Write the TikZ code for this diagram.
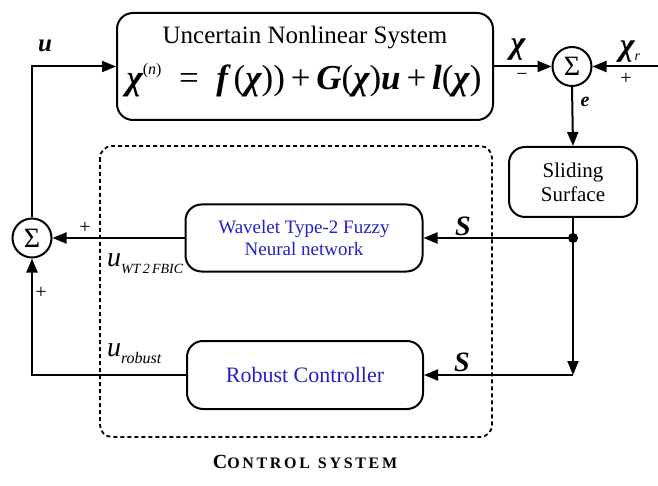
\documentclass[tikz,border=0pt]{standalone}
\usepackage{fontspec}
\setmainfont{Liberation Serif}
\usetikzlibrary{arrows.meta}
\definecolor{ctrlblue}{RGB}{35,30,205}
\newcommand{\bivar}[1]{{\bfseries\itshape #1}}
\newcommand{\fsz}[1]{\fontsize{#1}{1.15\dimexpr#1pt\relax}\selectfont}

\begin{document}
\begin{tikzpicture}[x=1pt,y=-1pt,line width=2pt,
	>={Triangle[length=14pt,width=11pt]},
	block/.style={draw,rounded corners=16pt,inner sep=0pt},
	sumnode/.style={draw,circle,minimum size=39pt,inner sep=0pt,font=\fsz{28}},
	lbl/.style={inner sep=0pt}]
	\useasboundingbox (0,0) rectangle (658,486);
	% controller frame
	\draw [line width=1.8pt,dash pattern=on 4pt off 3pt,rounded corners=12pt] (100,146) rectangle (492,437);
	% blocks
	\node [block,minimum width=376pt,minimum height=107pt] (sys) at (305,66.5) {};
	\node [lbl,font=\fsz{25}] (systitle) at (305,38) {Uncertain Nonlinear System};
	\node [lbl,font=\fsz{35}] (syseq) at (304,80) {\bivar{χ}\raisebox{15pt}{\fsz{16}(\textit{n})}\enspace=\enspace\bivar{f}\,(\bivar{χ}))\,+\,\bivar{G}(\bivar{χ})\bivar{u}\,+\,\bivar{l}(\bivar{χ})};
	\node [block,minimum width=128pt,minimum height=70pt,align=center,font=\fsz{21}] (slide) at (573,182) {Sliding\\Surface};
	\node [block,minimum width=237pt,minimum height=67pt,align=center,font=\fsz{19},text=ctrlblue] (wt) at (304,238) {Wavelet Type-2 Fuzzy\\Neural network};
	\node [block,minimum width=236pt,minimum height=68pt,font=\fsz{22},text=ctrlblue] (rob) at (305,375) {Robust Controller};
	\node [sumnode] (sumR) at (572,66.5) {Σ};
	\node [sumnode] (sumL) at (32,238) {Σ};
	\coordinate (ref) at (658,66.5);
	\fill (573,238) circle (5pt) coordinate (split);
	\coordinate (bend) at (573,375);
	% connectors
	\draw [->] (sumL.north) |- (sys.west);
	\draw [->] (sys.east) -- (sumR.west);
	\draw [->] (ref) -- (sumR.east);
	\draw [->] (sumR.south) -- (slide.north);
	\draw (slide.south) -- (split);
	\draw [->] (split) -- (wt.east);
	\draw [->] (split) -- (bend);
	\draw [->] (bend) -- (rob.east);
	\draw [->] (wt.west) -- (sumL.east);
	\draw [->] (rob.west) -| (sumL.south);
	% labels
	\node [lbl,font=\fsz{25}] (ulbl) at (45,46) {\bivar{u}};
	\node [lbl,font=\fsz{32}] (chilbl) at (518,50) {\bivar{χ}};
	\node [lbl,font=\fsz{20}] (minus) at (522,77) {−};
	\node [lbl,font=\fsz{32}] (chirlbl) at (630,52) {\bivar{χ}\raisebox{-5pt}{\fsz{14}\textit{r}}};
	\node [lbl,font=\fsz{20}] (plusR) at (626,79) {+};
	\node [lbl,font=\fsz{20}] (elbl) at (585,102) {\bivar{e}};
	\node [lbl,font=\fsz{28}] (slbl1) at (463,226) {\bivar{S}};
	\node [lbl,font=\fsz{28}] (slbl2) at (462,362) {\bivar{S}};
	\node [lbl,font=\fsz{20}] (plusA) at (85,228) {+};
	\node [lbl,font=\fsz{20}] (plusB) at (41,293) {+};
	\node [lbl,font=\fsz{28},anchor=base west] (uwt) at (106,266) {\textit{u}\raisebox{-7pt}{\fsz{14}\textit{WT\,2\,FBIC}}};
	\node [lbl,font=\fsz{28},anchor=base west] (urob) at (106,356) {\textit{u}\raisebox{-7pt}{\fsz{16}\textit{robust}}};
	\node [lbl,font=\bfseries] (caption) at (305,462) {{\fsz{20}C}{\fsz{16}O\,N\,T\,R\,O\,L\ \ S\,Y\,S\,T\,E\,M}};
\end{tikzpicture}
\end{document}
